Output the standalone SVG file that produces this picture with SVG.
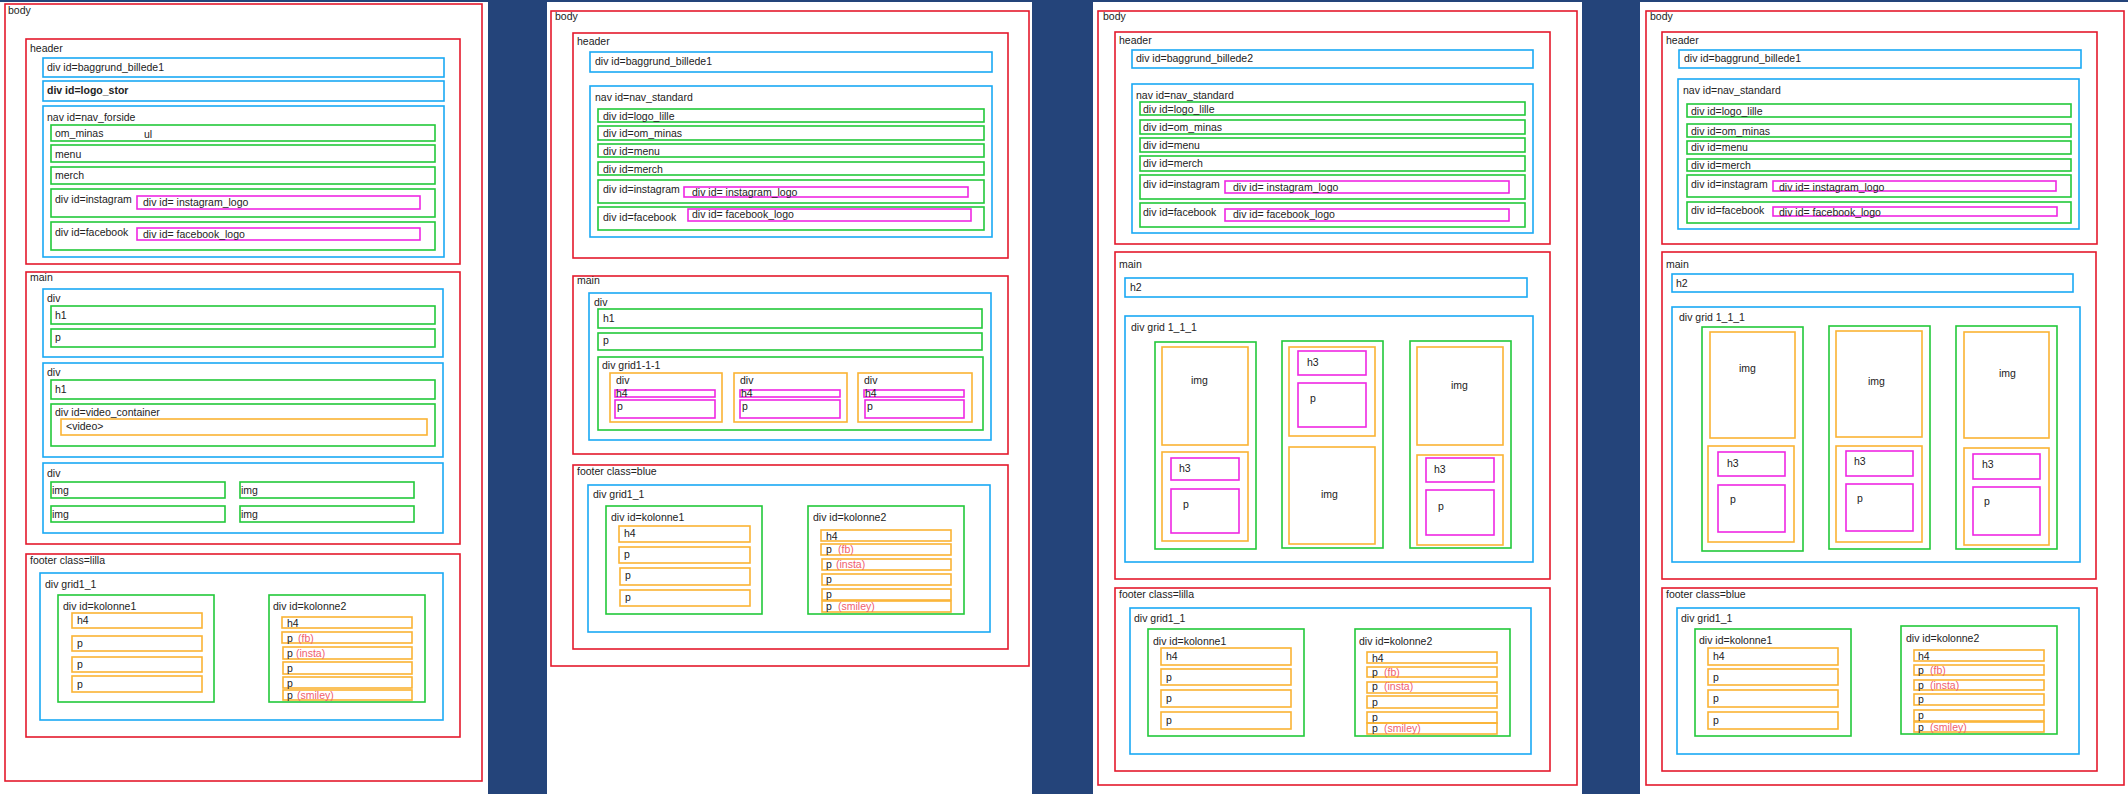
<svg xmlns="http://www.w3.org/2000/svg" width="2128" height="794" viewBox="0 0 2128 794">
<style>
rect{fill:none;stroke-width:1.6}
.bg{fill:#24447a;stroke:none}
.pg{fill:#fff;stroke:none}
.r{stroke:#e4192c}
.b{stroke:#19a9f4}
.g{stroke:#22c93a}
.o{stroke:#fbb334}
.m{stroke:#ef27e3}
text{font-family:"Liberation Sans",Arial,sans-serif;font-size:10.5px;fill:#222}
.bd{font-weight:bold}
.pk{fill:#f0606e}
</style>
<rect class="bg" x="0" y="0" width="2128" height="794"/>
<rect class="pg" x="0" y="2" width="488" height="792"/>
<rect class="pg" x="547" y="2" width="485" height="792"/>
<rect class="pg" x="1093" y="2" width="489" height="792"/>
<rect class="pg" x="1640" y="2" width="488" height="792"/>

<!-- layout 1: front page -->
<g id="p1">
<g id="p1-body"><rect class="r" x="5" y="4" width="477" height="777"/><text x="8" y="14">body</text></g>
<g id="p1-header"><rect class="r" x="26" y="39" width="434" height="225"/><text x="30" y="52">header</text></g>
<g id="p1-bg"><rect class="b" x="43" y="58" width="401" height="19"/><text x="47" y="71">div id=baggrund_billede1</text></g>
<g id="p1-logo"><rect class="b" x="43" y="81" width="401" height="20"/><text class="bd" x="47" y="94">div id=logo_stor</text></g>
<g id="p1-nav"><rect class="b" x="43" y="106" width="401" height="151"/><text x="47" y="121">nav id=nav_forside</text></g>
<g id="p1-om"><rect class="g" x="51" y="125" width="384" height="16"/><text x="55" y="137">om_minas</text><text x="144" y="138">ul</text></g>
<g id="p1-menu"><rect class="g" x="51" y="145" width="384" height="17"/><text x="55" y="158">menu</text></g>
<g id="p1-merch"><rect class="g" x="51" y="167" width="384" height="17"/><text x="55" y="179">merch</text></g>
<g id="p1-insta"><rect class="g" x="51" y="189" width="384" height="28"/><text x="55" y="203">div id=instagram</text></g>
<g id="p1-insta-logo"><rect class="m" x="137" y="196" width="283" height="13"/><text x="143" y="206">div id= instagram_logo</text></g>
<g id="p1-fb"><rect class="g" x="51" y="222" width="384" height="28"/><text x="55" y="236">div id=facebook</text></g>
<g id="p1-fb-logo"><rect class="m" x="137" y="228" width="283" height="12"/><text x="143" y="238">div id= facebook_logo</text></g>
<g id="p1-main"><rect class="r" x="26" y="272" width="434" height="272"/><text x="30" y="281">main</text></g>
<g id="p1-div1"><rect class="b" x="43" y="289" width="400" height="68"/><text x="47" y="302">div</text></g>
<g id="p1-div1-h1"><rect class="g" x="51" y="306" width="384" height="18"/><text x="55" y="319">h1</text></g>
<g id="p1-div1-p"><rect class="g" x="51" y="329" width="384" height="18"/><text x="55" y="341">p</text></g>
<g id="p1-div2"><rect class="b" x="43" y="363" width="400" height="94"/><text x="47" y="376">div</text></g>
<g id="p1-div2-h1"><rect class="g" x="51" y="380" width="384" height="19"/><text x="55" y="393">h1</text></g>
<g id="p1-video-c"><rect class="g" x="51" y="404" width="384" height="42"/><text x="55" y="416">div id=video_container</text></g>
<g id="p1-video"><rect class="o" x="61" y="419" width="366" height="16"/><text x="66" y="430">&lt;video&gt;</text></g>
<g id="p1-div3"><rect class="b" x="43" y="463" width="400" height="70"/><text x="47" y="477">div</text></g>
<g id="p1-img1"><rect class="g" x="51" y="482" width="174" height="16"/><text x="52" y="494">img</text></g>
<g id="p1-img2"><rect class="g" x="240" y="482" width="174" height="16"/><text x="241" y="494">img</text></g>
<g id="p1-img3"><rect class="g" x="51" y="506" width="174" height="16"/><text x="52" y="518">img</text></g>
<g id="p1-img4"><rect class="g" x="240" y="506" width="174" height="16"/><text x="241" y="518">img</text></g>
<g id="p1-footer"><rect class="r" x="26" y="554" width="434" height="183"/><text x="30" y="564">footer class=lilla</text></g>
<g id="p1-grid"><rect class="b" x="40" y="573" width="403" height="147"/><text x="45" y="588">div grid1_1</text></g>
<g id="p1-k1"><rect class="g" x="58" y="595" width="156" height="107"/><text x="63" y="610">div id=kolonne1</text></g>
<g id="p1-k1-h4"><rect class="o" x="72" y="613" width="130" height="15"/><text x="77" y="624">h4</text></g>
<g id="p1-k1-p1"><rect class="o" x="72" y="636" width="130" height="15"/><text x="77" y="647">p</text></g>
<g id="p1-k1-p2"><rect class="o" x="72" y="657" width="130" height="15"/><text x="77" y="668">p</text></g>
<g id="p1-k1-p3"><rect class="o" x="72" y="676" width="130" height="16"/><text x="77" y="688">p</text></g>
<g id="p1-k2"><rect class="g" x="269" y="595" width="156" height="107"/><text x="273" y="610">div id=kolonne2</text></g>
<g id="p1-k2-h4"><rect class="o" x="282" y="617" width="130" height="11"/><text x="287" y="627">h4</text></g>
<g id="p1-k2-p1"><rect class="o" x="282" y="632" width="130" height="11"/><text x="287" y="642">p</text><text class="pk" x="298" y="642">(fb)</text></g>
<g id="p1-k2-p2"><rect class="o" x="283" y="647" width="129" height="12"/><text x="287" y="657">p</text><text class="pk" x="296" y="657">(insta)</text></g>
<g id="p1-k2-p3"><rect class="o" x="283" y="662" width="129" height="12"/><text x="287" y="672">p</text></g>
<g id="p1-k2-p4"><rect class="o" x="283" y="677" width="129" height="11"/><text x="287" y="687">p</text></g>
<g id="p1-k2-p5"><rect class="o" x="283" y="690" width="129" height="10"/><text x="287" y="699">p</text><text class="pk" x="297" y="699">(smiley)</text></g>
</g>

<!-- layout 2: sub page with grid row -->
<g id="p2">
<g id="p2-body"><rect class="r" x="551" y="11" width="478" height="655"/><text x="555" y="20">body</text></g>
<g id="p2-header"><rect class="r" x="573" y="33" width="435" height="225"/><text x="577" y="45">header</text></g>
<g id="p2-bg"><rect class="b" x="590" y="52" width="402" height="20"/><text x="595" y="65">div id=baggrund_billede1</text></g>
<g id="p2-nav"><rect class="b" x="590" y="86" width="402" height="151"/><text x="595" y="101">nav id=nav_standard</text></g>
<g id="p2-logo"><rect class="g" x="598" y="109" width="386" height="13"/><text x="603" y="120">div id=logo_lille</text></g>
<g id="p2-om"><rect class="g" x="598" y="126" width="386" height="14"/><text x="603" y="137">div id=om_minas</text></g>
<g id="p2-menu"><rect class="g" x="598" y="144" width="386" height="13"/><text x="603" y="155">div id=menu</text></g>
<g id="p2-merch"><rect class="g" x="598" y="162" width="386" height="13"/><text x="603" y="173">div id=merch</text></g>
<g id="p2-insta"><rect class="g" x="598" y="180" width="386" height="23"/><text x="603" y="193">div id=instagram</text></g>
<g id="p2-insta-logo"><rect class="m" x="684" y="187" width="284" height="10"/><text x="692" y="196">div id= instagram_logo</text></g>
<g id="p2-fb"><rect class="g" x="598" y="207" width="386" height="23"/><text x="603" y="221">div id=facebook</text></g>
<g id="p2-fb-logo"><rect class="m" x="688" y="209" width="283" height="12"/><text x="692" y="218">div id= facebook_logo</text></g>
<g id="p2-main"><rect class="r" x="573" y="276" width="435" height="178"/><text x="577" y="284">main</text></g>
<g id="p2-div"><rect class="b" x="589" y="293" width="402" height="147"/><text x="594" y="306">div</text></g>
<g id="p2-h1"><rect class="g" x="598" y="309" width="384" height="19"/><text x="603" y="322">h1</text></g>
<g id="p2-p"><rect class="g" x="598" y="333" width="384" height="17"/><text x="603" y="344">p</text></g>
<g id="p2-grid3"><rect class="g" x="598" y="357" width="385" height="73"/><text x="602" y="369">div grid1-1-1</text></g>
<g id="p2-c1"><rect class="o" x="610" y="373" width="112" height="49"/><text x="616" y="384">div</text></g>
<g id="p2-c1-h4"><rect class="m" x="615" y="390" width="100" height="7"/><text x="616" y="397">h4</text></g>
<g id="p2-c1-p"><rect class="m" x="615" y="400" width="100" height="18"/><text x="617" y="410">p</text></g>
<g id="p2-c2"><rect class="o" x="734" y="373" width="113" height="49"/><text x="740" y="384">div</text></g>
<g id="p2-c2-h4"><rect class="m" x="740" y="390" width="100" height="7"/><text x="741" y="397">h4</text></g>
<g id="p2-c2-p"><rect class="m" x="740" y="400" width="100" height="18"/><text x="742" y="410">p</text></g>
<g id="p2-c3"><rect class="o" x="858" y="373" width="114" height="49"/><text x="864" y="384">div</text></g>
<g id="p2-c3-h4"><rect class="m" x="864" y="390" width="100" height="7"/><text x="865" y="397">h4</text></g>
<g id="p2-c3-p"><rect class="m" x="865" y="400" width="99" height="18"/><text x="867" y="410">p</text></g>
<g id="p2-footer"><rect class="r" x="573" y="465" width="435" height="184"/><text x="577" y="475">footer class=blue</text></g>
<g id="p2-grid"><rect class="b" x="588" y="485" width="402" height="147"/><text x="593" y="498">div grid1_1</text></g>
<g id="p2-k1"><rect class="g" x="606" y="506" width="156" height="108"/><text x="611" y="521">div id=kolonne1</text></g>
<g id="p2-k1-h4"><rect class="o" x="619" y="526" width="131" height="16"/><text x="624" y="537">h4</text></g>
<g id="p2-k1-p1"><rect class="o" x="619" y="547" width="131" height="16"/><text x="624" y="558">p</text></g>
<g id="p2-k1-p2"><rect class="o" x="620" y="568" width="130" height="17"/><text x="625" y="579">p</text></g>
<g id="p2-k1-p3"><rect class="o" x="620" y="590" width="130" height="16"/><text x="625" y="601">p</text></g>
<g id="p2-k2"><rect class="g" x="808" y="506" width="156" height="108"/><text x="813" y="521">div id=kolonne2</text></g>
<g id="p2-k2-h4"><rect class="o" x="821" y="530" width="130" height="11"/><text x="826" y="540">h4</text></g>
<g id="p2-k2-p1"><rect class="o" x="821" y="544" width="130" height="11"/><text x="826" y="553">p</text><text class="pk" x="838" y="553">(fb)</text></g>
<g id="p2-k2-p2"><rect class="o" x="822" y="559" width="129" height="11"/><text x="826" y="568">p</text><text class="pk" x="836" y="568">(insta)</text></g>
<g id="p2-k2-p3"><rect class="o" x="822" y="574" width="129" height="11"/><text x="826" y="583">p</text></g>
<g id="p2-k2-p4"><rect class="o" x="822" y="589" width="129" height="11"/><text x="826" y="598">p</text></g>
<g id="p2-k2-p5"><rect class="o" x="822" y="601" width="129" height="11"/><text x="826" y="610">p</text><text class="pk" x="838" y="610">(smiley)</text></g>
</g>

<!-- layout 3: sub page with staggered image columns -->
<g id="p3">
<g id="p3-body"><rect class="r" x="1098" y="11" width="479" height="774"/><text x="1103" y="20">body</text></g>
<g id="p3-header"><rect class="r" x="1115" y="32" width="435" height="212"/><text x="1119" y="44">header</text></g>
<g id="p3-bg"><rect class="b" x="1132" y="50" width="401" height="18"/><text x="1136" y="62">div id=baggrund_billede2</text></g>
<g id="p3-nav"><rect class="b" x="1132" y="84" width="401" height="149"/><text x="1136" y="99">nav id=nav_standard</text></g>
<g id="p3-logo"><rect class="g" x="1140" y="102" width="385" height="13"/><text x="1143" y="113">div id=logo_lille</text></g>
<g id="p3-om"><rect class="g" x="1140" y="120" width="385" height="14"/><text x="1143" y="131">div id=om_minas</text></g>
<g id="p3-menu"><rect class="g" x="1140" y="138" width="385" height="14"/><text x="1143" y="149">div id=menu</text></g>
<g id="p3-merch"><rect class="g" x="1140" y="156" width="385" height="15"/><text x="1143" y="167">div id=merch</text></g>
<g id="p3-insta"><rect class="g" x="1140" y="175" width="385" height="24"/><text x="1143" y="188">div id=instagram</text></g>
<g id="p3-insta-logo"><rect class="m" x="1225" y="181" width="284" height="12"/><text x="1233" y="191">div id= instagram_logo</text></g>
<g id="p3-fb"><rect class="g" x="1140" y="203" width="385" height="24"/><text x="1143" y="216">div id=facebook</text></g>
<g id="p3-fb-logo"><rect class="m" x="1225" y="209" width="284" height="12"/><text x="1233" y="218">div id= facebook_logo</text></g>
<g id="p3-main"><rect class="r" x="1115" y="252" width="435" height="327"/><text x="1119" y="268">main</text></g>
<g id="p3-h2"><rect class="b" x="1125" y="278" width="402" height="19"/><text x="1130" y="291">h2</text></g>
<g id="p3-grid3"><rect class="b" x="1125" y="316" width="408" height="246"/><text x="1131" y="331">div grid 1_1_1</text></g>
<g id="p3-col1"><rect class="g" x="1155" y="342" width="101" height="207"/></g>
<g id="p3-col1-img"><rect class="o" x="1162" y="347" width="86" height="98"/><text x="1191" y="384">img</text></g>
<g id="p3-col1-txt"><rect class="o" x="1162" y="452" width="86" height="89"/></g>
<g id="p3-col1-h3"><rect class="m" x="1171" y="458" width="68" height="22"/><text x="1179" y="472">h3</text></g>
<g id="p3-col1-p"><rect class="m" x="1171" y="489" width="68" height="44"/><text x="1183" y="508">p</text></g>
<g id="p3-col2"><rect class="g" x="1282" y="341" width="101" height="207"/></g>
<g id="p3-col2-txt"><rect class="o" x="1289" y="347" width="86" height="89"/></g>
<g id="p3-col2-h3"><rect class="m" x="1298" y="351" width="68" height="24"/><text x="1307" y="366">h3</text></g>
<g id="p3-col2-p"><rect class="m" x="1298" y="383" width="68" height="44"/><text x="1310" y="402">p</text></g>
<g id="p3-col2-img"><rect class="o" x="1289" y="447" width="86" height="97"/><text x="1321" y="498">img</text></g>
<g id="p3-col3"><rect class="g" x="1410" y="341" width="101" height="207"/></g>
<g id="p3-col3-img"><rect class="o" x="1417" y="347" width="86" height="98"/><text x="1451" y="389">img</text></g>
<g id="p3-col3-txt"><rect class="o" x="1417" y="455" width="86" height="90"/></g>
<g id="p3-col3-h3"><rect class="m" x="1426" y="458" width="68" height="24"/><text x="1434" y="473">h3</text></g>
<g id="p3-col3-p"><rect class="m" x="1426" y="490" width="68" height="45"/><text x="1438" y="510">p</text></g>
<g id="p3-footer"><rect class="r" x="1115" y="588" width="435" height="183"/><text x="1119" y="598">footer class=lilla</text></g>
<g id="p3-grid"><rect class="b" x="1130" y="608" width="401" height="146"/><text x="1134" y="622">div grid1_1</text></g>
<g id="p3-k1"><rect class="g" x="1148" y="629" width="156" height="107"/><text x="1153" y="645">div id=kolonne1</text></g>
<g id="p3-k1-h4"><rect class="o" x="1161" y="648" width="130" height="17"/><text x="1166" y="660">h4</text></g>
<g id="p3-k1-p1"><rect class="o" x="1161" y="669" width="130" height="16"/><text x="1166" y="681">p</text></g>
<g id="p3-k1-p2"><rect class="o" x="1161" y="690" width="130" height="17"/><text x="1166" y="702">p</text></g>
<g id="p3-k1-p3"><rect class="o" x="1161" y="712" width="130" height="17"/><text x="1166" y="724">p</text></g>
<g id="p3-k2"><rect class="g" x="1355" y="629" width="155" height="107"/><text x="1359" y="645">div id=kolonne2</text></g>
<g id="p3-k2-h4"><rect class="o" x="1367" y="652" width="130" height="11"/><text x="1372" y="662">h4</text></g>
<g id="p3-k2-p1"><rect class="o" x="1367" y="667" width="130" height="10"/><text x="1372" y="676">p</text><text class="pk" x="1384" y="676">(fb)</text></g>
<g id="p3-k2-p2"><rect class="o" x="1367" y="682" width="130" height="11"/><text x="1372" y="690">p</text><text class="pk" x="1384" y="690">(insta)</text></g>
<g id="p3-k2-p3"><rect class="o" x="1367" y="696" width="130" height="12"/><text x="1372" y="706">p</text></g>
<g id="p3-k2-p4"><rect class="o" x="1367" y="712" width="130" height="11"/><text x="1372" y="721">p</text></g>
<g id="p3-k2-p5"><rect class="o" x="1367" y="723" width="130" height="11"/><text x="1372" y="732">p</text><text class="pk" x="1384" y="732">(smiley)</text></g>
</g>

<!-- layout 4: sub page with even image columns -->
<g id="p4">
<g id="p4-body"><rect class="r" x="1646" y="11" width="478" height="774"/><text x="1650" y="20">body</text></g>
<g id="p4-header"><rect class="r" x="1662" y="32" width="435" height="212"/><text x="1666" y="44">header</text></g>
<g id="p4-bg"><rect class="b" x="1679" y="50" width="402" height="18"/><text x="1684" y="62">div id=baggrund_billede1</text></g>
<g id="p4-nav"><rect class="b" x="1678" y="79" width="401" height="150"/><text x="1683" y="94">nav id=nav_standard</text></g>
<g id="p4-logo"><rect class="g" x="1687" y="104" width="384" height="13"/><text x="1691" y="115">div id=logo_lille</text></g>
<g id="p4-om"><rect class="g" x="1687" y="124" width="384" height="13"/><text x="1691" y="135">div id=om_minas</text></g>
<g id="p4-menu"><rect class="g" x="1687" y="141" width="384" height="13"/><text x="1691" y="151">div id=menu</text></g>
<g id="p4-merch"><rect class="g" x="1687" y="159" width="384" height="12"/><text x="1691" y="169">div id=merch</text></g>
<g id="p4-insta"><rect class="g" x="1687" y="175" width="384" height="22"/><text x="1691" y="188">div id=instagram</text></g>
<g id="p4-insta-logo"><rect class="m" x="1773" y="181" width="283" height="10"/><text x="1779" y="191">div id= instagram_logo</text></g>
<g id="p4-fb"><rect class="g" x="1687" y="202" width="384" height="21"/><text x="1691" y="214">div id=facebook</text></g>
<g id="p4-fb-logo"><rect class="m" x="1773" y="207" width="284" height="9"/><text x="1779" y="216">div id= facebook_logo</text></g>
<g id="p4-main"><rect class="r" x="1662" y="252" width="434" height="327"/><text x="1666" y="268">main</text></g>
<g id="p4-h2"><rect class="b" x="1672" y="274" width="401" height="18"/><text x="1676" y="287">h2</text></g>
<g id="p4-grid3"><rect class="b" x="1672" y="307" width="408" height="255"/><text x="1679" y="321">div grid 1_1_1</text></g>
<g id="p4-col1"><rect class="g" x="1702" y="327" width="101" height="224"/></g>
<g id="p4-col1-img"><rect class="o" x="1710" y="332" width="85" height="106"/><text x="1739" y="372">img</text></g>
<g id="p4-col1-txt"><rect class="o" x="1708" y="446" width="86" height="96"/></g>
<g id="p4-col1-h3"><rect class="m" x="1718" y="452" width="67" height="24"/><text x="1727" y="467">h3</text></g>
<g id="p4-col1-p"><rect class="m" x="1718" y="485" width="67" height="47"/><text x="1730" y="503">p</text></g>
<g id="p4-col2"><rect class="g" x="1829" y="326" width="101" height="223"/></g>
<g id="p4-col2-img"><rect class="o" x="1836" y="331" width="86" height="106"/><text x="1868" y="385">img</text></g>
<g id="p4-col2-txt"><rect class="o" x="1836" y="446" width="86" height="96"/></g>
<g id="p4-col2-h3"><rect class="m" x="1846" y="451" width="67" height="25"/><text x="1854" y="465">h3</text></g>
<g id="p4-col2-p"><rect class="m" x="1846" y="484" width="67" height="47"/><text x="1857" y="502">p</text></g>
<g id="p4-col3"><rect class="g" x="1956" y="326" width="101" height="223"/></g>
<g id="p4-col3-img"><rect class="o" x="1964" y="332" width="85" height="106"/><text x="1999" y="377">img</text></g>
<g id="p4-col3-txt"><rect class="o" x="1964" y="448" width="85" height="97"/></g>
<g id="p4-col3-h3"><rect class="m" x="1973" y="454" width="67" height="25"/><text x="1982" y="468">h3</text></g>
<g id="p4-col3-p"><rect class="m" x="1973" y="487" width="67" height="48"/><text x="1984" y="505">p</text></g>
<g id="p4-footer"><rect class="r" x="1662" y="588" width="435" height="183"/><text x="1666" y="598">footer class=blue</text></g>
<g id="p4-grid"><rect class="b" x="1677" y="608" width="402" height="146"/><text x="1681" y="622">div grid1_1</text></g>
<g id="p4-k1"><rect class="g" x="1695" y="629" width="156" height="107"/><text x="1699" y="644">div id=kolonne1</text></g>
<g id="p4-k1-h4"><rect class="o" x="1708" y="648" width="130" height="17"/><text x="1713" y="660">h4</text></g>
<g id="p4-k1-p1"><rect class="o" x="1708" y="669" width="130" height="16"/><text x="1713" y="681">p</text></g>
<g id="p4-k1-p2"><rect class="o" x="1708" y="690" width="130" height="17"/><text x="1713" y="702">p</text></g>
<g id="p4-k1-p3"><rect class="o" x="1708" y="712" width="130" height="17"/><text x="1713" y="724">p</text></g>
<g id="p4-k2"><rect class="g" x="1901" y="626" width="156" height="108"/><text x="1906" y="642">div id=kolonne2</text></g>
<g id="p4-k2-h4"><rect class="o" x="1914" y="650" width="130" height="11"/><text x="1918" y="660">h4</text></g>
<g id="p4-k2-p1"><rect class="o" x="1914" y="665" width="130" height="10"/><text x="1918" y="674">p</text><text class="pk" x="1930" y="674">(fb)</text></g>
<g id="p4-k2-p2"><rect class="o" x="1914" y="680" width="130" height="10"/><text x="1918" y="689">p</text><text class="pk" x="1930" y="689">(insta)</text></g>
<g id="p4-k2-p3"><rect class="o" x="1914" y="694" width="130" height="11"/><text x="1918" y="703">p</text></g>
<g id="p4-k2-p4"><rect class="o" x="1914" y="710" width="130" height="11"/><text x="1918" y="719">p</text></g>
<g id="p4-k2-p5"><rect class="o" x="1914" y="722" width="130" height="10"/><text x="1918" y="731">p</text><text class="pk" x="1930" y="731">(smiley)</text></g>
</g>

<!-- the page structures are pure nesting, so the connector layer stays empty -->
<g id="connectors"/>
</svg>
